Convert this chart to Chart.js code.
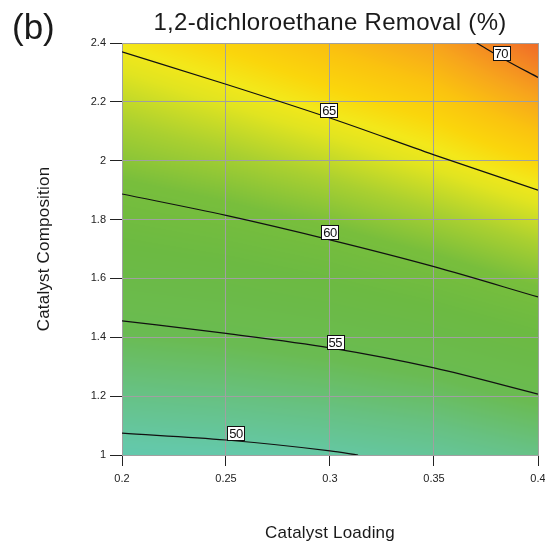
<!DOCTYPE html>
<html>
<head>
<meta charset="utf-8">
<title>1,2-dichloroethane Removal (%)</title>
<script src="https://cdn.jsdelivr.net/npm/chart.js@4.4.1/dist/chart.umd.min.js"></script>
<style>
    body { margin: 0; background: #fff; }
    #chartBox { width: 545px; height: 542px; }
</style>
</head>
<body>
<div id="chartBox"><canvas id="contourChart" width="545" height="542"></canvas></div>
<script>
// Sumbu
const xTicks = [0.2, 0.25, 0.3, 0.35, 0.4];
const xTickLabels = ['0.2', '0.25', '0.3', '0.35', '0.4'];
const yTicks = [1, 1.2, 1.4, 1.6, 1.8, 2, 2.2, 2.4];
const yTickLabels = ['1', '1.2', '1.4', '1.6', '1.8', '2', '2.2', '2.4'];

// Nilai removal (%) yang dibaca di titik grid (baris = yTicks, kolom = xTicks)
const removalGrid = [
    [49.0, 49.3, 49.8, 50.5, 51.7],
    [51.7, 52.1, 52.7, 53.5, 54.9],
    [54.3, 54.8, 55.5, 56.5, 57.9],
    [56.7, 57.3, 58.2, 59.4, 60.9],
    [59.0, 59.8, 60.8, 62.1, 63.6],
    [61.2, 62.1, 63.3, 64.7, 66.3],
    [63.2, 64.4, 65.7, 66.9, 68.9],
    [65.3, 66.5, 67.8, 69.1, 71.5]
];

// Garis kontur
const contourLevels = [50, 55, 60, 65, 70];
const contour50X = [0.2, 0.25, 0.3, 0.3135];
const contour50Y = [1.074, 1.051, 1.014, 1.0];
const contour55X = [0.2, 0.25, 0.3, 0.35, 0.4];
const contour55Y = [1.456, 1.413, 1.364, 1.296, 1.207];
const contour60X = [0.2, 0.25, 0.3, 0.35, 0.4];
const contour60Y = [1.887, 1.814, 1.731, 1.64, 1.537];
const contour65X = [0.2, 0.25, 0.3, 0.35, 0.4];
const contour65Y = [2.37, 2.26, 2.145, 2.02, 1.90];
const contour70X = [0.3705, 0.385, 0.4];
const contour70Y = [2.4, 2.34, 2.283];

// Posisi label kontur (koordinat data)
const labelX = [0.2548, 0.3025, 0.3, 0.2995, 0.3823];
const labelY = [1.075, 1.384, 1.758, 2.172, 2.366];

// Skala warna: [nilai, r, g, b]
const colorStops = [
    [48, 95, 200, 180],
    [49.5, 100, 200, 168],
    [52, 103, 193, 130],
    [54.5, 106, 187, 82],
    [58, 108, 186, 66],
    [60.5, 120, 190, 60],
    [62.5, 170, 208, 48],
    [64.3, 225, 228, 32],
    [65.2, 243, 232, 26],
    [66.2, 250, 214, 12],
    [67.5, 250, 195, 15],
    [69, 247, 165, 28],
    [70.5, 243, 130, 36],
    [72, 238, 95, 40]
];

const FONT = '"Liberation Sans", Arial, Helvetica, sans-serif';

function colorFor(v) {
    if (v <= colorStops[0][0]) return colorStops[0].slice(1);
    for (let i = 1; i < colorStops.length; i++) {
        const a = colorStops[i - 1], b = colorStops[i];
        if (v <= b[0]) {
            const t = (v - a[0]) / (b[0] - a[0]);
            return [a[1] + (b[1] - a[1]) * t, a[2] + (b[2] - a[2]) * t, a[3] + (b[3] - a[3]) * t];
        }
    }
    return colorStops[colorStops.length - 1].slice(1);
}

function findCell(arr, v) {
    let i = 0;
    while (i < arr.length - 2 && v > arr[i + 1]) i++;
    const t = Math.min(1, Math.max(0, (v - arr[i]) / (arr[i + 1] - arr[i])));
    return [i, t];
}

function removalAt(x, y) {
    const [i, tx] = findCell(xTicks, x);
    const [j, ty] = findCell(yTicks, y);
    const z00 = removalGrid[j][i], z10 = removalGrid[j][i + 1];
    const z01 = removalGrid[j + 1][i], z11 = removalGrid[j + 1][i + 1];
    return (z00 * (1 - tx) + z10 * tx) * (1 - ty) + (z01 * (1 - tx) + z11 * tx) * ty;
}

// Latar warna permukaan respons, digambar sebelum grid
const surfacePlugin = {
    id: 'surface',
    beforeDraw(chart) {
        const { ctx, chartArea, scales } = chart;
        const left = Math.round(chartArea.left), top = Math.round(chartArea.top);
        const w = Math.round(chartArea.right) - left, h = Math.round(chartArea.bottom) - top;
        const img = ctx.createImageData(w, h);
        for (let py = 0; py < h; py++) {
            const yv = scales.y.getValueForPixel(top + py + 0.5);
            for (let px = 0; px < w; px++) {
                const xv = scales.x.getValueForPixel(left + px + 0.5);
                const c = colorFor(removalAt(xv, yv));
                const k = (py * w + px) * 4;
                img.data[k] = c[0];
                img.data[k + 1] = c[1];
                img.data[k + 2] = c[2];
                img.data[k + 3] = 255;
            }
        }
        ctx.putImageData(img, left, top);
    }
};

// Label kontur + judul
const textPlugin = {
    id: 'texts',
    afterDatasetsDraw(chart) {
        const { ctx, scales } = chart;
        ctx.save();
        ctx.font = '13px ' + FONT;
        ctx.letterSpacing = '-0.6px';
        ctx.textAlign = 'center';
        ctx.textBaseline = 'middle';
        contourLevels.forEach((lvl, i) => {
            const px = scales.x.getPixelForValue(labelX[i]);
            const py = scales.y.getPixelForValue(labelY[i]);
            const txt = String(lvl);
            const bw = ctx.measureText(txt).width + 4;
            const bh = 14;
            ctx.fillStyle = '#fff';
            ctx.fillRect(Math.round(px - bw / 2) + 0.5, Math.round(py - bh / 2) + 0.5, Math.round(bw), bh);
            ctx.strokeStyle = '#111';
            ctx.lineWidth = 1;
            ctx.strokeRect(Math.round(px - bw / 2) + 0.5, Math.round(py - bh / 2) + 0.5, Math.round(bw), bh);
            ctx.fillStyle = '#111';
            ctx.fillText(txt, px, py + 1);
        });
        ctx.restore();
    },
    afterDraw(chart) {
        const { ctx, chartArea } = chart;
        const cx = (chartArea.left + chartArea.right) / 2;
        ctx.save();
        ctx.fillStyle = '#1a1a1a';
        ctx.textBaseline = 'alphabetic';

        ctx.font = '35px ' + FONT;
        ctx.textAlign = 'left';
        ctx.fillText('(b)', 12, 39);

        ctx.font = '24px ' + FONT;
        ctx.letterSpacing = '0.3px';
        ctx.textAlign = 'center';
        ctx.fillText('1,2-dichloroethane Removal (%)', cx, 30);

        ctx.font = '17px ' + FONT;
        ctx.letterSpacing = '0.2px';
        ctx.fillText('Catalyst Loading', cx, 538);

        ctx.translate(49, (chartArea.top + chartArea.bottom) / 2);
        ctx.rotate(-Math.PI / 2);
        ctx.fillText('Catalyst Composition', 0, 0);
        ctx.restore();
    }
};

function contourSet(xs, ys) {
    return {
        data: xs.map((x, i) => ({ x, y: ys[i] })),
        borderColor: '#111',
        borderWidth: 1.2,
        pointRadius: 0,
        showLine: true,
        fill: false,
        cubicInterpolationMode: 'monotone'
    };
}

const ctx = document.getElementById('contourChart').getContext('2d');
new Chart(ctx, {
    type: 'scatter',
    data: {
        datasets: [
            contourSet(contour50X, contour50Y),
            contourSet(contour55X, contour55Y),
            contourSet(contour60X, contour60Y),
            contourSet(contour65X, contour65Y),
            contourSet(contour70X, contour70Y)
        ]
    },
    options: {
        responsive: false,
        animation: false,
        devicePixelRatio: 1,
        layout: { padding: { top: 43, right: 7, bottom: 0, left: 0 } },
        plugins: { legend: { display: false }, tooltip: { enabled: false } },
        scales: {
            x: {
                type: 'linear',
                min: 0.2,
                max: 0.4,
                afterBuildTicks: (scale) => { scale.ticks = xTicks.map(v => ({ value: v })); },
                afterFit: (scale) => { scale.height = 87; scale.paddingLeft = 0; scale.paddingRight = 0; },
                ticks: {
                    callback: (v, i) => xTickLabels[i],
                    autoSkip: false,
                    maxRotation: 0,
                    padding: 6,
                    color: '#222',
                    font: { family: FONT, size: 11 }
                },
                grid: { color: '#a0a0a0', tickColor: '#222', tickLength: 11, lineWidth: 1 },
                border: { color: '#a0a0a0' }
            },
            y: {
                type: 'linear',
                min: 1,
                max: 2.4,
                afterBuildTicks: (scale) => { scale.ticks = yTicks.map(v => ({ value: v })); },
                afterFit: (scale) => { scale.width = 122; scale.paddingTop = 0; scale.paddingBottom = 0; },
                ticks: {
                    callback: (v, i) => yTickLabels[i],
                    autoSkip: false,
                    padding: 4,
                    color: '#222',
                    font: { family: FONT, size: 11 }
                },
                grid: { color: '#a0a0a0', tickColor: '#222', tickLength: 12, lineWidth: 1 },
                border: { color: '#a0a0a0' }
            }
        }
    },
    plugins: [surfacePlugin, textPlugin]
});
</script>
</body>
</html>
